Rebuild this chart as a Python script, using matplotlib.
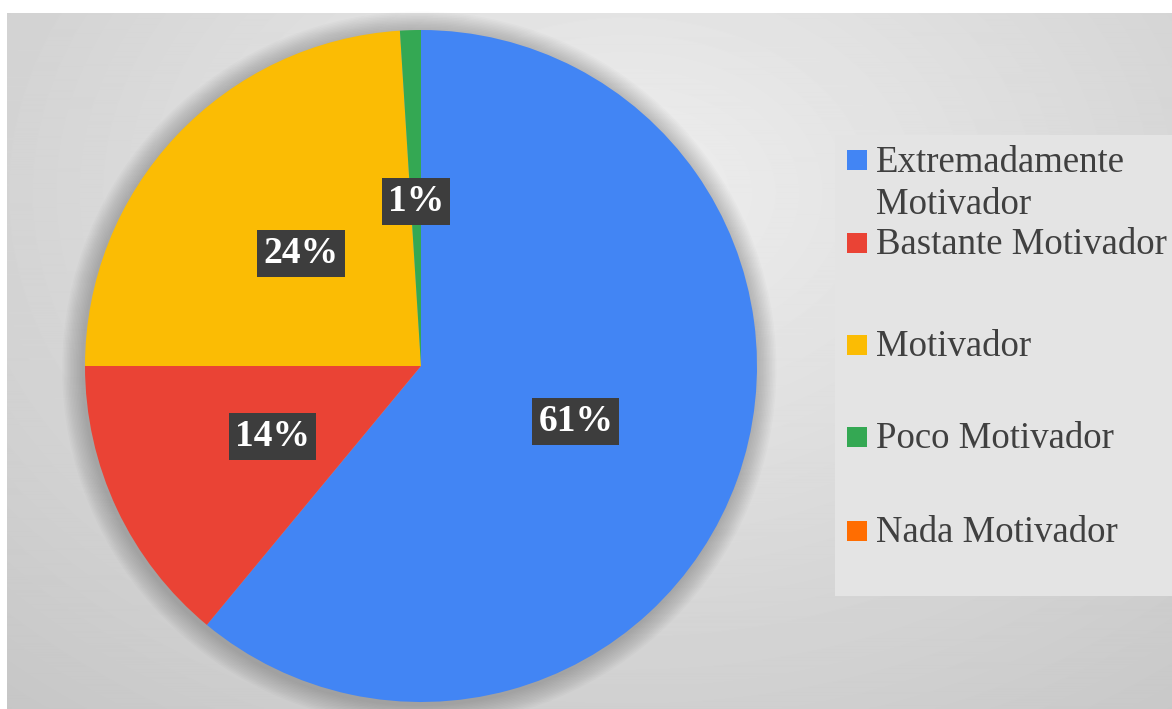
import numpy as np
import matplotlib.pyplot as plt
from matplotlib.patches import Rectangle, Circle

# ==== DATA ====
categories = ["Extremadamente\nMotivador", "Bastante Motivador", "Motivador",
              "Poco Motivador", "Nada Motivador"]
percentages = [61, 14, 24, 1, 0]
colors = ["#4285F4", "#EA4335", "#FBBC04", "#34A853", "#FF6D01"]

W, H = 1172, 709
fig = plt.figure(figsize=(W / 100, H / 100), dpi=100)
fig.patch.set_facecolor("white")

# ==== BACKGROUND (soft radial grey) ====
bg = fig.add_axes([7 / W, 0, 1 - 7 / W, 1 - 13 / H])
yy, xx = np.mgrid[0:700, 0:1165]
dist = np.hypot((xx - 620) / 900.0, (yy - 180) / 650.0)
shade = np.clip(0.935 - 0.15 * dist, 0.77, 0.935)
bg.imshow(shade, cmap="gray", vmin=0, vmax=1, aspect="auto", interpolation="bilinear")
bg.axis("off")

# ==== LEGEND PANEL ====
fig.patches.append(Rectangle((835 / W, 1 - 596 / H), (W - 835) / W, (596 - 135) / H,
                             transform=fig.transFigure, facecolor="#e4e4e4",
                             edgecolor="none", zorder=1))

# ==== PIE ====
cx, cy, r = 421, 366, 336
ax = fig.add_axes([(cx - r) / W, (H - cy - r) / H, 2 * r / W, 2 * r / H])
ax.axis("off")

# soft halo around the pie
for k in range(14):
    ax.add_patch(Circle((-0.005, -0.008), 1.0 + 0.0045 * (14 - k), facecolor="black",
                        alpha=0.016, edgecolor="none", zorder=0, clip_on=False))

def fmt(pct):
    return f"{pct:.0f}%" if pct >= 0.5 else ""

wedges, texts, autotexts = ax.pie(percentages, colors=colors, startangle=90,
                                  counterclock=False, radius=1.0, autopct=fmt,
                                  pctdistance=0.49,
                                  wedgeprops=dict(linewidth=0),
                                  textprops=dict(color="white", fontsize=27,
                                                 fontweight="bold",
                                                 family="Liberation Serif"))
for t in autotexts:
    t.set_bbox(dict(boxstyle="square,pad=0.16", facecolor="#3d3d3d",
                    edgecolor="none"))
ax.set_xlim(-1, 1)
ax.set_ylim(-1, 1)
ax.set_aspect("equal")

# ==== LEGEND ENTRIES ====
legend_y = [160, 243, 345, 437, 531]
for label, col, y in zip(categories, colors, legend_y):
    fig.patches.append(Rectangle((847 / W, 1 - (y + 10) / H), 20 / W, 20 / H,
                                 transform=fig.transFigure, facecolor=col,
                                 edgecolor="none", zorder=2))
    fig.text(876 / W, 1 - (y - 15) / H, label, ha="left", va="top",
             fontsize=26.5, family="Liberation Serif", color="#404040",
             linespacing=1.3, zorder=3)

fig.savefig("out.png", dpi=100)
